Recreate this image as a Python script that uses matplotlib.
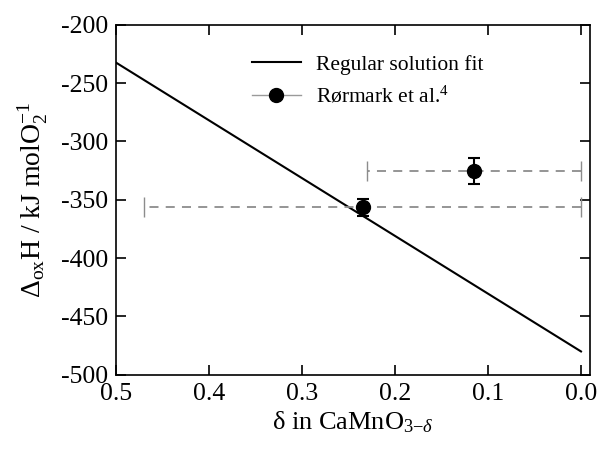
import matplotlib
matplotlib.use('Agg')
import matplotlib.pyplot as plt
from matplotlib.lines import Line2D

plt.rcParams['font.family'] = ['Liberation Serif', 'DejaVu Serif']
plt.rcParams['mathtext.fontset'] = 'custom'
plt.rcParams['mathtext.rm'] = 'Liberation Serif'
plt.rcParams['mathtext.it'] = 'Liberation Serif:italic'
plt.rcParams['axes.unicode_minus'] = False

# regular solution fit (straight line)
fit_delta = [0.5, 0.0]
fit_dH = [-232.5, -480.0]

# Rormark et al. data
pt_delta = [0.235, 0.115]
pt_dH = [-356.5, -325.5]
pt_xerr = [0.235, 0.115]
pt_yerr = [7.5, 11.0]

fig = plt.figure(figsize=(5.99, 4.51), dpi=100)
ax = fig.add_axes([0.194, 0.169, 0.791, 0.776])

ax.plot(fit_delta, fit_dH, color='black', lw=1.5)

# horizontal dashed error bars in grey
ax.errorbar(pt_delta, pt_dH, xerr=pt_xerr, fmt='none', ecolor='#8c8c8c',
            elinewidth=1.3, capsize=7, capthick=1.0, ls='--')
for eb in ax.containers[-1].lines[2]:
    eb.set_linestyle((0, (5, 4)))
# vertical error bars and markers
ax.errorbar(pt_delta, pt_dH, yerr=pt_yerr, fmt='o', color='black', ms=10,
            elinewidth=1.5, capsize=4, capthick=1.5)

ax.set_xlim(0.5, -0.0097)
ax.set_ylim(-500, -200)
ax.set_xticks([0.5, 0.4, 0.3, 0.2, 0.1, 0.0])
ax.set_xticklabels(['0.5', '0.4', '0.3', '0.2', '0.1', '0.0'])
ax.set_yticks(range(-500, -199, 50))
ax.tick_params(direction='in', top=True, right=True, length=7, width=1.2,
               labelsize=18.5)
ax.tick_params(axis='x', pad=6)
ax.tick_params(axis='y', pad=6)
for s in ax.spines.values():
    s.set_linewidth(1.2)

ax.set_xlabel(r'δ in CaMnO$_{3\mathrm{-}\delta}$', fontsize=19, labelpad=3)
ax.set_ylabel(r'$\Delta_{\mathrm{ox}}$H / kJ molO$_2^{-1}$', fontsize=20, labelpad=8)

handles = [Line2D([], [], color='black', lw=1.5),
           Line2D([], [], color='#9a9a9a', lw=1.0, marker='o', ms=10,
                  mfc='black', mec='black')]
labels = ['Regular solution fit', r'Rørmark et al.$^4$']
ax.legend(handles, labels, loc='upper left', bbox_to_anchor=(0.245, 0.97),
          frameon=False, fontsize=15.5, handlelength=2.3, handletextpad=0.7,
          labelspacing=0.55)

fig.savefig('out.png', dpi=100)
